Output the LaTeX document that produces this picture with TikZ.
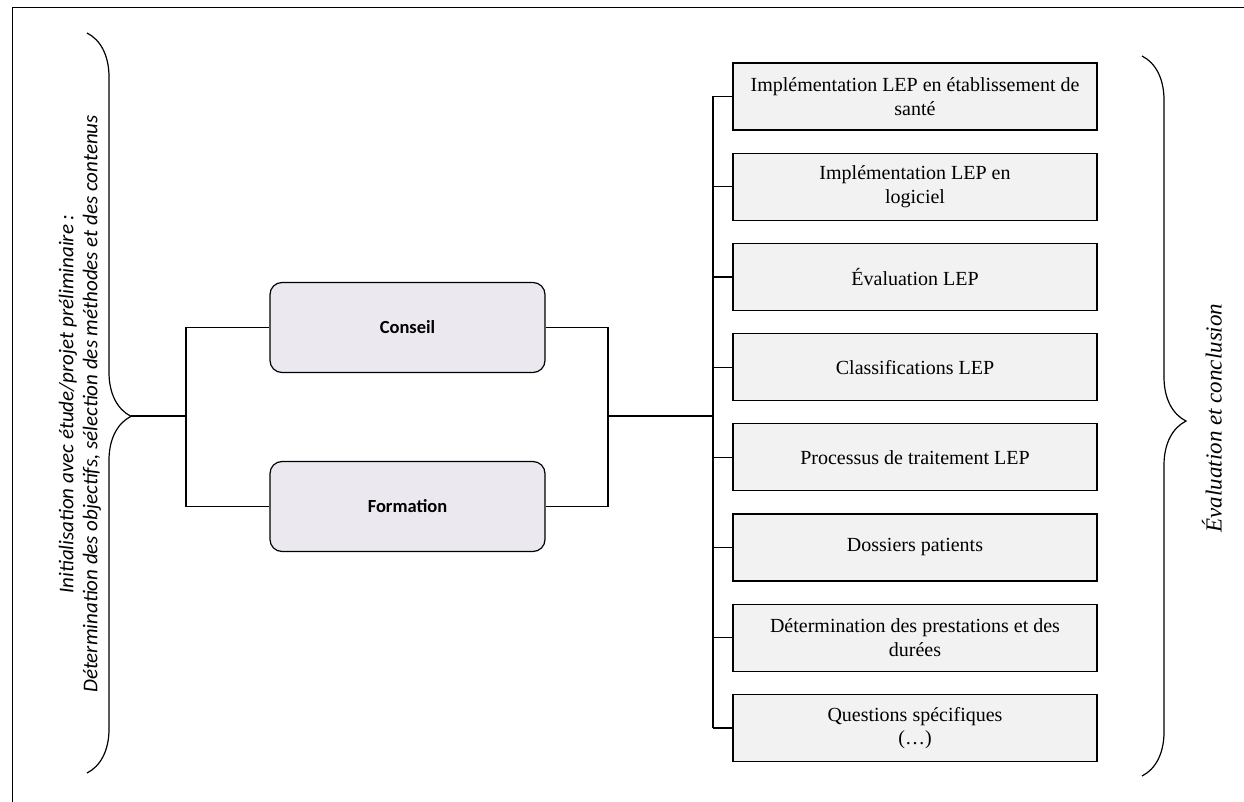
\documentclass[tikz,border=0pt]{standalone}
\usepackage{fontspec}
\setmainfont{Liberation Serif}
\newfontfamily\calibri{Carlito}
\usetikzlibrary{decorations.pathreplacing,positioning}

\definecolor{lilac}{HTML}{EBE8EF}
\definecolor{boxgray}{HTML}{F2F2F2}

\begin{document}
\begin{tikzpicture}[x=1pt,y=-1pt,line width=1.2pt,
  theme/.style={draw,rounded corners=12pt,fill=lilac,minimum width=275pt,
    minimum height=90pt,font=\calibri\bfseries\fontsize{18.5}{21}\selectfont},
  topic/.style={draw,fill=boxgray,minimum width=364pt,minimum height=67pt,
    align=center,font=\fontsize{20}{23.5}\selectfont},
  bracket/.style={decorate,decoration={brace,amplitude=44pt,aspect=#1}}]

  \useasboundingbox (0,0) rectangle (1244,802);
  \draw[line width=1pt] (12,812) -- (12,8) -- (1254,8);

  % left part: brace, then the two branches
  \draw[bracket=0.518] (87,33) -- (87,773);
  \coordinate (tipL) at (131,416);
  \coordinate (hubL) at (186,416);
  \coordinate (hubR) at (608,416);
  \coordinate (bus)  at (713,416);

  \node[rotate=90,align=center,font=\calibri\itshape\fontsize{21}{24}\selectfont]
    (init) at (80,404) {Initialisation avec étude/projet préliminaire :\\
    Détermination des objectifs, sélection des méthodes et des contenus};

  \node[theme] (conseil)   at (407.5,327.5) {Conseil};
  \node[theme] (formation) at (407.5,506.5) {Formation};

  \draw (tipL) -- (hubL);
  \draw (conseil.west) -| (hubL) |- (formation.west);
  \draw (conseil.east) -| (hubR) |- (formation.east);
  \draw (hubR) -- (bus);

  % right part: the topics hanging on one bus
  \foreach \i/\txt in {1/{Implémentation LEP en établissement de\\santé},
                       2/{Implémentation LEP en\\logiciel},
                       3/{Évaluation LEP},
                       4/{Classifications LEP},
                       5/{Processus de traitement LEP},
                       6/{Dossiers patients},
                       7/{Détermination des prestations et des\\durées},
                       8/{Questions spécifiques\\(…)}}
    \node[topic] (t\i) at (915,{96.5+90.2*(\i-1)}) {\txt};

  \draw (t1.west -| bus) -- (t8.west -| bus);
  \foreach \i in {1,...,8}
    \draw (t\i.west -| bus) -- (t\i.west);

  \draw[bracket=0.507] (1142,56) -- (1142,776);
  \node[rotate=90,font=\itshape\fontsize{23}{27}\selectfont]
    (eval) at (1212,418) {Évaluation et conclusion};

\end{tikzpicture}
\end{document}
